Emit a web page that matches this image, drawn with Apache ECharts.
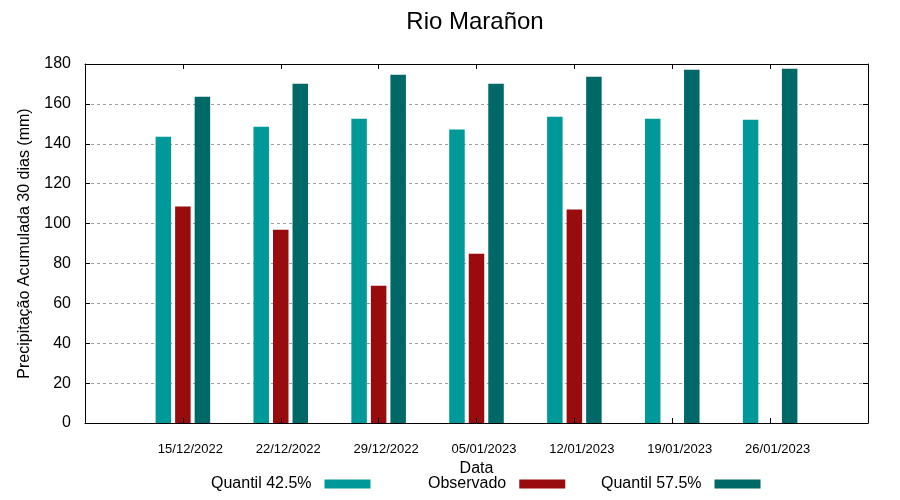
<!DOCTYPE html>
<html>
<head>
<meta charset="utf-8">
<script src="https://cdn.jsdelivr.net/npm/echarts@6/dist/echarts.min.js"></script>
<style>html,body{margin:0;padding:0;background:#fff}#c{width:900px;height:500px}</style>
</head>
<body>
<div id="c"></div>
<script>
var dates = ['15/12/2022','22/12/2022','29/12/2022','05/01/2023','12/01/2023','19/01/2023','26/01/2023'];
var q425 = [143.5, 148.6, 152.6, 147.1, 153.6, 152.6, 152.1];
var observado = [108.5, 96.9, 68.8, 84.9, 107.0, null, null];
var q575 = [163.6, 170.1, 174.6, 170.1, 173.6, 177.1, 177.6];
var yTicks = [0, 20, 40, 60, 80, 100, 120, 140, 160, 180];

var FONT = 'Liberation Sans, Arial, sans-serif';
function pad(a){ return [null].concat(a).concat([null]); }
var cats = [''].concat(dates).concat(['']);

var chart = echarts.init(document.getElementById('c'));
var axisLine = {show: true, onZero: false, lineStyle: {color: '#000', width: 1}};
function legendFor(name, left) {
  return {data: [name], left: left, top: 476, padding: 0, align: 'right', icon: 'rect',
          itemWidth: 46, itemHeight: 9,
          textStyle: {fontFamily: FONT, fontSize: 16, color: '#000', padding: [0, 8, 0, 0]}};
}
var option = {
  animation: false,
  backgroundColor: '#fff',
  title: {
    text: 'Rio Marañon', left: 475, top: 10, padding: 0, textAlign: 'center',
    textStyle: {fontFamily: FONT, fontSize: 24, fontWeight: 'normal', color: '#000'}
  },
  grid: {left: 85, right: 32, top: 64, bottom: 77},
  legend: [
    legendFor('Quantil 42.5%', 211),
    legendFor('Observado', 428),
    legendFor('Quantil 57.5%', 601)
  ],
  xAxis: [
    {type: 'category', data: cats, boundaryGap: false, position: 'bottom', z: 5,
     name: 'Data', nameLocation: 'middle', nameGap: 35,
     nameTextStyle: {fontFamily: FONT, fontSize: 16, color: '#000'},
     axisLine: axisLine,
     axisTick: {show: true, inside: true, length: 5, interval: 0, lineStyle: {color: '#000'}},
     axisLabel: {interval: 0, margin: 20, fontFamily: FONT, fontSize: 13, color: '#000', padding: [0, 0, 0, 15]},
     splitLine: {show: false}},
    {type: 'category', data: cats, boundaryGap: false, position: 'top', z: 5,
     axisLine: axisLine,
     axisTick: {show: true, inside: true, length: 5, interval: 0, lineStyle: {color: '#000'}},
     axisLabel: {show: false}, splitLine: {show: false}}
  ],
  yAxis: [
    {type: 'value', min: yTicks[0], max: yTicks[yTicks.length - 1], interval: 20, position: 'left',
     name: 'Precipitação Acumulada 30 dias (mm)', nameLocation: 'middle', nameGap: 52,
     nameTextStyle: {fontFamily: FONT, fontSize: 16, color: '#000'},
     axisLine: axisLine,
     axisTick: {show: true, inside: true, length: 5, lineStyle: {color: '#000'}},
     axisLabel: {margin: 14, fontFamily: FONT, fontSize: 16, color: '#000'},
     splitLine: {show: true, showMinLine: false, showMaxLine: false,
                 lineStyle: {color: '#a0a0a0', width: 1, type: [3, 3]}}},
    {type: 'value', min: yTicks[0], max: yTicks[yTicks.length - 1], interval: 20, position: 'right',
     axisLine: axisLine,
     axisTick: {show: true, inside: true, length: 5, lineStyle: {color: '#000'}},
     axisLabel: {show: false}, splitLine: {show: false}}
  ],
  series: [
    {name: 'Quantil 42.5%', type: 'bar', data: pad(q425), barWidth: 15.5, barGap: '26%',
     itemStyle: {color: '#009999'}},
    {name: 'Observado', type: 'bar', data: pad(observado), barWidth: 15.5, barGap: '26%',
     itemStyle: {color: '#990c0e'}},
    {name: 'Quantil 57.5%', type: 'bar', data: pad(q575), barWidth: 15.5, barGap: '26%',
     itemStyle: {color: '#006866'}}
  ]
};
chart.setOption(option);
</script>
</body>
</html>
